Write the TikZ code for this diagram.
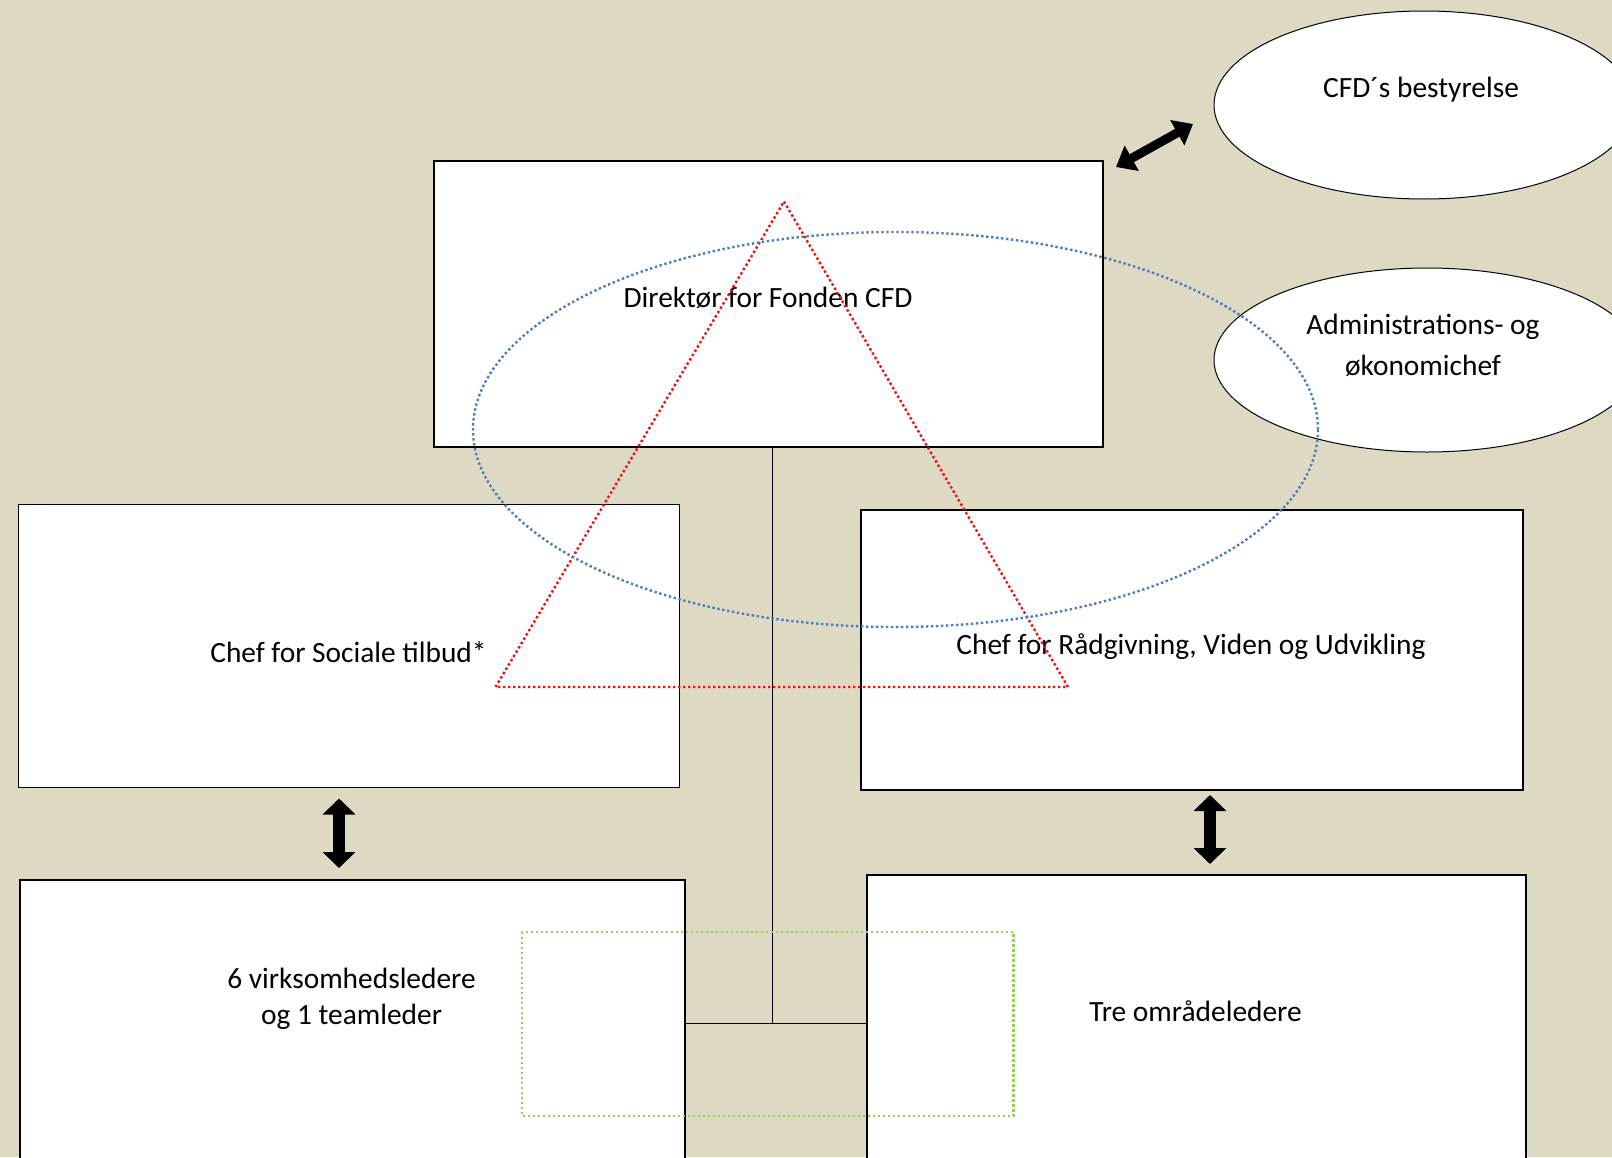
\documentclass[tikz,border=0pt]{standalone}
\usepackage{fontspec}
\setmainfont{Carlito}
\usetikzlibrary{arrows.meta}
\usetikzlibrary{positioning}
\usetikzlibrary{shapes.geometric}
\definecolor{mtan}{HTML}{DDD9C3}
\definecolor{mred}{HTML}{F01010}
\definecolor{mblue}{HTML}{4A7EBB}
\definecolor{mgreen}{HTML}{92D050}

\begin{document}
\begin{tikzpicture}[x=0.5pt, y=-0.5pt, font=\fontsize{14.7}{18}\selectfont,
    box/.style={draw, fill=white, line width=1pt, inner sep=0pt},
    oval/.style={ellipse, draw, fill=white, line width=0.5pt, inner sep=0pt},
    bigarrow/.style={line width=6pt, {Triangle[length=8pt,width=16pt]}-{Triangle[length=8pt,width=16pt]}},
    dots/.style={line width=1.2pt, dash pattern=on 1.2pt off 1.3pt}]
  \fill [mtan] (0, 0) rectangle (1612, 1157);
  \useasboundingbox (0, 0) rectangle (1612, 1157);

  \node [box] (dir) at (768.5, 304) [minimum width=334.5pt, minimum height=143pt] {};
  \node [box, line width=0.5pt] (social) at (349, 645.5) [minimum width=330.75pt, minimum height=141.5pt] {};
  \node [box] (advice) at (1192, 650) [minimum width=331pt, minimum height=140pt] {};
  \node [box] (leaders) at (352.5, 1050) [minimum width=332.5pt, minimum height=170pt] {};
  \node [box] (areas) at (1196.5, 1047.5) [minimum width=329.5pt, minimum height=172.5pt] {};
  \node (dirtxt) at (768, 298) {Direktør for Fonden CFD};
  \node (socialtxt) at (348.5, 652) {Chef for Sociale tilbud*};
  \node (advicetxt) at (1191, 647) {Chef for Rådgivning, Viden og Udvikling};
  \node (leaderstxt) at (351.5, 999) [align=center] {6 virksomhedsledere\\og 1 teamleder};
  \node (areastxt) at (1195.5, 1011.5) {Tre områdeledere};

  \node [oval] (board) at (1424, 105) [minimum width=210pt, minimum height=94pt] {};
  \node [oval] (admin) at (1427, 360) [minimum width=213pt, minimum height=92pt] {};
  \node (boardtxt) at (1421, 90) {CFD´s bestyrelse};
  \node (admintxt) at (1423, 345.5) [align=center, font=\fontsize{14.7}{20.5}\selectfont] {Administrations- og\\økonomichef};

  \coordinate (joint) at (772, 1023);
  \draw [line width=0.5pt] (dir.south -| joint) -- (joint);
  \draw [line width=0.5pt] (leaders.east |- joint) -- (areas.west |- joint);

  \draw [bigarrow, shorten <=5.5pt, shorten >=5.5pt] ([xshift=-5pt]social.south) -- ([xshift=-5pt]social.south |- leaders.north);
  \draw [bigarrow, shorten <=2pt, shorten >=5pt] ([xshift=9pt]advice.south) -- ([xshift=9pt]advice.south |- areas.north);
  \coordinate (tipA) at (1116, 167);
  \coordinate (tipB) at (1193, 124);
  \draw [bigarrow, line width=4.5pt, {Triangle[length=9pt,width=14pt]}-{Triangle[length=9pt,width=14pt]}] (tipA) -- (tipB);

  \draw [mred, dots] (784, 201.5) -- (1068, 687) -- (495.5, 687) -- cycle;
  \draw [mblue, dots] (895.5, 429.5) ellipse [x radius=211.25pt, y radius=98.75pt];
  \draw [mgreen, dots] (522, 932) rectangle (1013.5, 1116);
\end{tikzpicture}
\end{document}
